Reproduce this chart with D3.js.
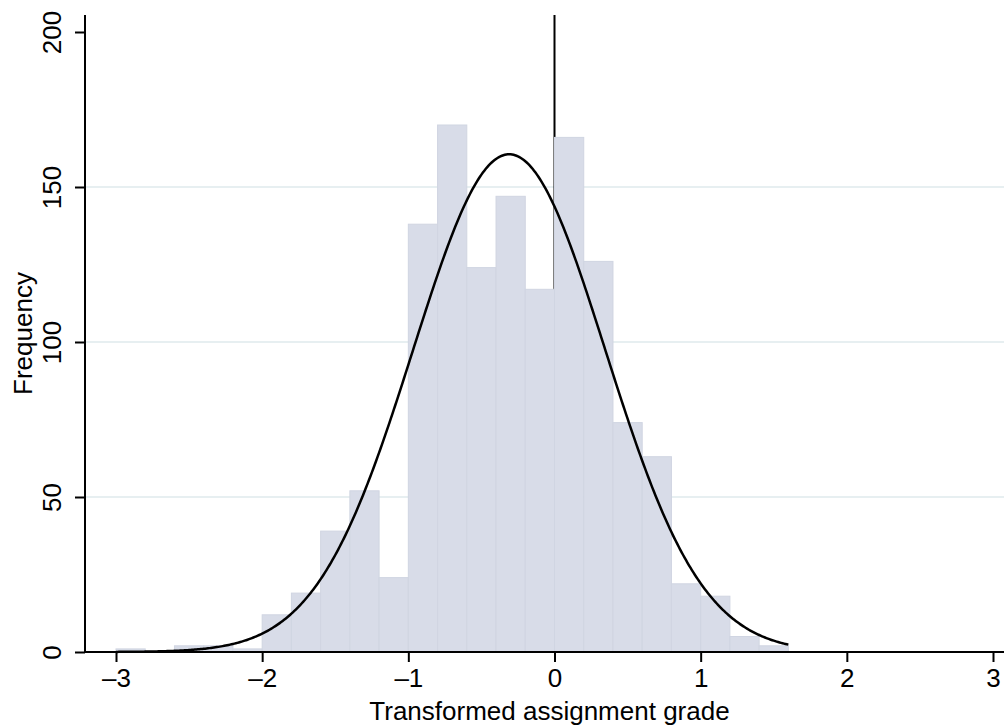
<!DOCTYPE html>
<html>
<head>
<meta charset="utf-8">
<script src="https://cdn.jsdelivr.net/npm/d3@7"></script>
<style>
  body { margin: 0; background: #fff; }
  text { font-family: "Liberation Sans", Arial, sans-serif; fill: #000; }
</style>
</head>
<body>
<div id="chart"></div>
<script>
// histogram bins (left edges, width 0.2) and counts
const binStarts = [-3.0, -2.8, -2.6, -2.4, -2.2, -2.0, -1.8, -1.6, -1.4, -1.2,
                   -1.0, -0.8, -0.6, -0.4, -0.2, 0.0, 0.2, 0.4, 0.6, 0.8,
                   1.0, 1.2, 1.4];
const counts = [1, 0, 2, 2, 1, 12, 19, 39, 52, 24,
                138, 170, 124, 147, 117, 166, 126, 74, 63, 22,
                18, 5, 2];
const binWidth = 0.2;

// normal overlay parameters
const normMean = -0.31;
const normSd = 0.658;
const curveRange = [-3.0, 1.6];

const xTicks = [-3, -2, -1, 0, 1, 2, 3];
const yTicks = [0, 50, 100, 150, 200];
const gridTicks = [50, 100, 150];

const width = 1004;
const height = 726;
const fontSize = "26px";

const svg = d3.select("#chart")
    .append("svg")
    .attr("width", width)
    .attr("height", height);

const xScale = d3.scaleLinear().domain([-3, 3]).range([116, 993]);
const yScale = d3.scaleLinear().domain([0, 200]).range([652, 32]);

const plotLeft = 85, plotRight = 1004, plotTop = 15;

// gridlines
svg.selectAll(".grid")
    .data(gridTicks)
    .enter()
    .append("line")
    .attr("x1", plotLeft)
    .attr("x2", plotRight)
    .attr("y1", d => yScale(d))
    .attr("y2", d => yScale(d))
    .attr("stroke", "#e7eff1")
    .attr("stroke-width", 2);

// vertical reference line at 0 (drawn under the bars)
svg.append("line")
    .attr("x1", xScale(0))
    .attr("x2", xScale(0))
    .attr("y1", yScale(0))
    .attr("y2", plotTop)
    .attr("stroke", "#000")
    .attr("stroke-width", 2);

// bars
const bars = binStarts.map((b, i) => ({ x0: b, x1: b + binWidth, n: counts[i] }));
svg.selectAll(".bar")
    .data(bars.filter(d => d.n > 0))
    .enter()
    .append("rect")
    .attr("x", d => xScale(d.x0))
    .attr("width", d => xScale(d.x1) - xScale(d.x0))
    .attr("y", d => yScale(d.n))
    .attr("height", d => yScale(0) - yScale(d.n))
    .attr("fill", "#d8dce8")
    .attr("stroke", "#d0d5e2")
    .attr("stroke-width", 1);

// normal density curve scaled to frequency
const total = d3.sum(counts);
const curvePts = d3.range(curveRange[0], curveRange[1] + 1e-9, 0.01).map(x => {
    const z = (x - normMean) / normSd;
    return [x, total * binWidth * Math.exp(-0.5 * z * z) / (normSd * Math.sqrt(2 * Math.PI))];
});
svg.append("path")
    .datum(curvePts)
    .attr("fill", "none")
    .attr("stroke", "#000")
    .attr("stroke-width", 2.5)
    .attr("d", d3.line().x(d => xScale(d[0])).y(d => yScale(d[1])));

// axes lines
svg.append("line")
    .attr("x1", plotLeft).attr("x2", plotLeft)
    .attr("y1", plotTop).attr("y2", yScale(0))
    .attr("stroke", "#000").attr("stroke-width", 2);
svg.append("line")
    .attr("x1", plotLeft).attr("x2", plotRight)
    .attr("y1", yScale(0)).attr("y2", yScale(0))
    .attr("stroke", "#000").attr("stroke-width", 2);

const fmt = d => d < 0 ? "\u2013" + Math.abs(d) : String(d);

// x axis
const xAxis = svg.append("g")
    .attr("transform", `translate(0,${yScale(0)})`)
    .call(d3.axisBottom(xScale).tickValues(xTicks).tickFormat(fmt).tickSize(10).tickSizeOuter(0));
xAxis.select(".domain").remove();
xAxis.selectAll(".tick line").attr("stroke", "#000").attr("stroke-width", 2);
xAxis.selectAll(".tick text")
    .attr("y", 35)
    .attr("dy", 0)
    .style("font-size", fontSize)
    .style("font-family", "'Liberation Sans', Arial, sans-serif");

// y axis
const yAxis = svg.append("g")
    .attr("transform", `translate(${plotLeft},0)`)
    .call(d3.axisLeft(yScale).tickValues(yTicks).tickSize(10).tickSizeOuter(0));
yAxis.select(".domain").remove();
yAxis.selectAll(".tick line").attr("stroke", "#000").attr("stroke-width", 2);
yAxis.selectAll(".tick text")
    .attr("x", null)
    .attr("dy", null)
    .attr("transform", "translate(-24,0) rotate(-90)")
    .style("text-anchor", "middle")
    .style("font-size", fontSize)
    .style("font-family", "'Liberation Sans', Arial, sans-serif");

// axis titles
svg.append("text")
    .attr("x", (367 + 732) / 2)
    .attr("y", 720)
    .style("text-anchor", "middle")
    .style("font-size", fontSize)
    .text("Transformed assignment grade");

svg.append("text")
    .attr("transform", `translate(32,${(plotTop + yScale(0)) / 2}) rotate(-90)`)
    .style("text-anchor", "middle")
    .style("font-size", fontSize)
    .text("Frequency");
</script>
</body>
</html>
